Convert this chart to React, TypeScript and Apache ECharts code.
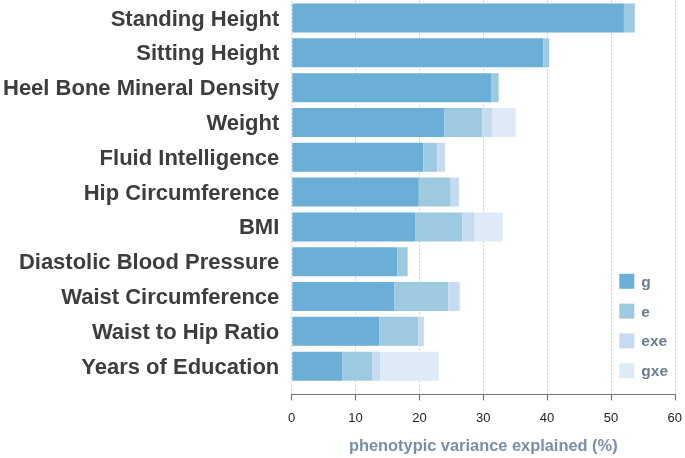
import React, { useEffect, useRef } from "react";
import * as echarts from "echarts";

const categories = [
  "Standing Height",
  "Sitting Height",
  "Heel Bone Mineral Density",
  "Weight",
  "Fluid Intelligence",
  "Hip Circumference",
  "BMI",
  "Diastolic Blood Pressure",
  "Waist Circumference",
  "Waist to Hip Ratio",
  "Years of Education",
];
const gValues = [51.9, 39.3, 31.1, 23.75, 20.5, 19.8, 19.3, 16.45, 16.0, 13.6, 7.86];
const eValues = [1.7, 0.9, 1.2, 5.95, 2.2, 5.0, 7.3, 1.6, 8.4, 6.1, 4.7];
const exeValues = [0, 0, 0, 1.55, 1.2, 1.3, 1.9, 0, 1.8, 0.9, 1.2];
const gxeValues = [0, 0, 0, 3.7, 0, 0, 4.45, 0, 0, 0, 9.15];
const seriesNames = ["g", "e", "exe", "gxe"];
const xTicks = [0, 10, 20, 30, 40, 50, 60];

const colors = ["#6baed6", "#9ecae1", "#c6dbef", "#deebf7"];

export default function App() {
  const ref = useRef<HTMLDivElement>(null);
  useEffect(() => {
    if (!ref.current) return;
    const chart = echarts.init(ref.current, null, { renderer: "svg" });
    const all = [gValues, eValues, exeValues, gxeValues];
    chart.setOption({
      animation: false,
      color: colors,
      textStyle: { fontFamily: "Liberation Sans" },
      grid: [
        { left: 291.7, right: 9.3, top: 0.6, height: 383, containLabel: false },
        { left: 291.7, right: 9.3, top: 0.6, height: 401.7, containLabel: false },
      ],
      legend: {
        orient: "vertical",
        left: 619.3,
        top: 273.3,
        padding: 0,
        itemWidth: 15,
        itemHeight: 15,
        itemGap: 13.8,
        icon: "rect",
        data: seriesNames,
        textStyle: {
          fontFamily: "Liberation Sans",
          fontWeight: "bold",
          fontSize: 15.5,
          color: "#6b7c8f",
          padding: [0, 0, 0, 2],
        },
      },
      xAxis: [
        {
          gridIndex: 0,
          type: "value",
          min: 0,
          max: 60,
          interval: 10,
          show: false,
        },
        {
          gridIndex: 1,
          type: "value",
          min: 0,
          max: 60,
          interval: 10,
          position: "bottom",
          axisLine: { show: true, lineStyle: { color: "#777", width: 1.2 } },
          axisTick: { show: true, length: 6, lineStyle: { color: "#777", width: 1.2 } },
          axisLabel: {
            color: "#222",
            fontSize: 13,
            margin: 16,
            fontFamily: "Liberation Sans",
            formatter: (v: number) => (xTicks.includes(v) ? String(v) : ""),
          },
          splitLine: {
            show: true,
            lineStyle: { color: "#cfcfcf", type: [2, 2], width: 1 },
          },
          name: "phenotypic variance explained (%)",
          nameLocation: "middle",
          nameGap: 42.5,
          nameTextStyle: {
            fontFamily: "Liberation Sans",
            fontWeight: "bold",
            fontSize: 16.4,
            color: "#7b8fa4",
          },
        },
      ],
      yAxis: [
        {
          gridIndex: 0,
          type: "category",
          data: categories,
          inverse: true,
          axisLine: { show: false },
          axisTick: { show: false },
          splitLine: { show: false },
          axisLabel: {
            color: "#3d3d3d",
            fontSize: 22,
            fontWeight: "bold",
            margin: 13,
            fontFamily: "Liberation Sans",
          },
        },
        {
          gridIndex: 1,
          type: "value",
          min: 0,
          max: 1,
          show: false,
        },
      ],
      series: seriesNames.map((name, i) => ({
        name,
        type: "bar",
        stack: "total",
        xAxisIndex: 0,
        yAxisIndex: 0,
        barWidth: 29,
        data: all[i],
        itemStyle: { color: colors[i] },
      })),
    });
    return () => chart.dispose();
  }, []);
  return (
    <div
      ref={ref}
      style={{ position: "fixed", left: 0, top: 0, width: 685, height: 458 }}
    />
  );
}
